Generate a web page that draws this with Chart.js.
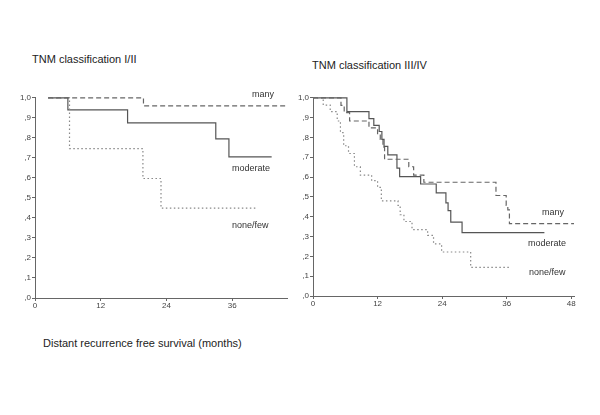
<!DOCTYPE html>
<html>
<head>
<meta charset="utf-8">
<script src="https://cdn.jsdelivr.net/npm/chart.js@4"></script>
<style>
  html, body { margin: 0; padding: 0; background: #fff; }
  #page { position: relative; width: 600px; height: 415px; overflow: hidden; font-family: Arial, "Liberation Sans", sans-serif; }
  canvas { position: absolute; }
  .title { position: absolute; font-size: 11px; line-height: 13px; color: #222; white-space: nowrap; }
  .tag { position: absolute; font-size: 9px; line-height: 11px; color: #333; white-space: nowrap; }
</style>
</head>
<body>
<div id="page">
  <div class="title" style="left:32px; top:53px;">TNM classification I/II</div>
  <div class="title" style="left:312px; top:59px;">TNM classification III/IV</div>
  <div class="title" style="left:43px; top:337px;">Distant recurrence free survival (months)</div>

  <canvas id="left" width="290" height="226" style="left:5px; top:92px;"></canvas>
  <canvas id="right" width="301" height="224" style="left:283px; top:92px;"></canvas>

  <div class="tag" style="left:252px; top:89px;">many</div>
  <div class="tag" style="left:232px; top:163px;">moderate</div>
  <div class="tag" style="left:232px; top:220px;">none/few</div>
  <div class="tag" style="left:542px; top:207px;">many</div>
  <div class="tag" style="left:528px; top:238px;">moderate</div>
  <div class="tag" style="left:529px; top:267px;">none/few</div>
</div>
<script>
// y axis ticks (cumulative survival)
const yTickValues = [0, 0.1, 0.2, 0.3, 0.4, 0.5, 0.6, 0.7, 0.8, 0.9, 1.0];
const yTickLabels = [',0', ',1', ',2', ',3', ',4', ',5', ',6', ',7', ',8', ',9', '1,0'];

// TNM I/II  (months, survival)
const leftXTicks = [0, 12, 24, 36];
const leftManyT = [2.4, 19.8, 46];
const leftManyS = [1.0, 0.96, 0.96];
const leftModerateT = [2.4, 6.0, 16.9, 33.0, 35.4, 43.2];
const leftModerateS = [1.0, 0.94, 0.875, 0.795, 0.705, 0.705];
const leftNoneT = [2.4, 6.3, 19.7, 23.0, 40.4];
const leftNoneS = [1.0, 0.746, 0.597, 0.449, 0.449];

// TNM III/IV
const rightXTicks = [0, 12, 24, 36, 48];
const rightManyT = [0, 5.2, 5.8, 6.8, 10.4, 12.0, 12.5, 13.0, 13.3, 17.8, 18.7, 20.6, 34.0, 35.9, 36.2, 36.5, 48.5];
const rightManyS = [1.0, 0.962, 0.925, 0.883, 0.848, 0.816, 0.79, 0.75, 0.69, 0.652, 0.61, 0.574, 0.507, 0.457, 0.435, 0.365, 0.365];
const rightModerateT = [0, 6.3, 10.4, 11.3, 12.3, 12.8, 13.2, 13.9, 15.6, 16.1, 20.0, 22.9, 24.7, 25.1, 25.6, 27.7, 43.0];
const rightModerateS = [1.0, 0.93, 0.895, 0.861, 0.83, 0.79, 0.755, 0.712, 0.645, 0.602, 0.565, 0.52, 0.47, 0.431, 0.373, 0.32, 0.32];
const rightNoneT = [0, 1.9, 3.2, 4.5, 5.1, 5.7, 6.6, 7.7, 8.8, 10.9, 12.0, 12.7, 15.8, 16.2, 16.9, 18.4, 21.3, 22.4, 23.9, 29.3, 36.5];
const rightNoneS = [1.0, 0.963, 0.93, 0.883, 0.824, 0.758, 0.719, 0.652, 0.61, 0.582, 0.548, 0.48, 0.457, 0.41, 0.376, 0.335, 0.306, 0.263, 0.222, 0.144, 0.144];

const axisColor = '#666';
const tickFont = { family: 'Arial, "Liberation Sans", sans-serif', size: 8 };

function pts(t, s) {
    return t.map((x, i) => ({ x, y: s[i] }));
}

function curve(t, s, color, dash) {
    return {
        data: pts(t, s),
        stepped: true,
        borderColor: color,
        borderWidth: 1.2,
        borderDash: dash,
        pointRadius: 0,
        fill: false,
        clip: false,
    };
}

function survivalChart(id, xMax, xTicks, datasets, padRight) {
    return new Chart(document.getElementById(id), {
        type: 'line',
        data: { datasets },
        options: {
            responsive: false,
            animation: false,
            layout: { padding: { top: 5, right: padRight, left: 0, bottom: 0 } },
            plugins: { legend: { display: false }, tooltip: { enabled: false } },
            scales: {
                x: {
                    type: 'linear',
                    min: 0,
                    max: xMax,
                    afterBuildTicks: (axis) => { axis.ticks = xTicks.map((v) => ({ value: v })); },
                    afterFit: (scale) => { scale.height = 20; },
                    ticks: { color: '#444', font: tickFont, padding: 0, maxRotation: 0 },
                    grid: { drawOnChartArea: false, tickLength: 3, color: axisColor },
                    border: { color: axisColor },
                },
                y: {
                    min: 0,
                    max: 1,
                    afterBuildTicks: (axis) => { axis.ticks = yTickValues.map((v) => ({ value: v })); },
                    afterFit: (scale) => { scale.width = 30; },
                    ticks: {
                        color: '#444',
                        font: tickFont,
                        padding: 1,
                        callback: (v) => yTickLabels[Math.round(v * 10)],
                    },
                    grid: { drawOnChartArea: false, tickLength: 3, color: axisColor },
                    border: { color: axisColor },
                },
            },
        },
    });
}

survivalChart('left', 46, leftXTicks, [
    curve(leftManyT, leftManyS, '#666', [5, 3]),
    curve(leftNoneT, leftNoneS, '#888', [1.5, 2.5]),
    curve(leftModerateT, leftModerateS, '#555', []),
], 8);

survivalChart('right', 48.5, rightXTicks, [
    curve(rightManyT, rightManyS, '#666', [5, 3]),
    curve(rightNoneT, rightNoneS, '#888', [1.5, 2.5]),
    curve(rightModerateT, rightModerateS, '#555', []),
], 10);
</script>
</body>
</html>
